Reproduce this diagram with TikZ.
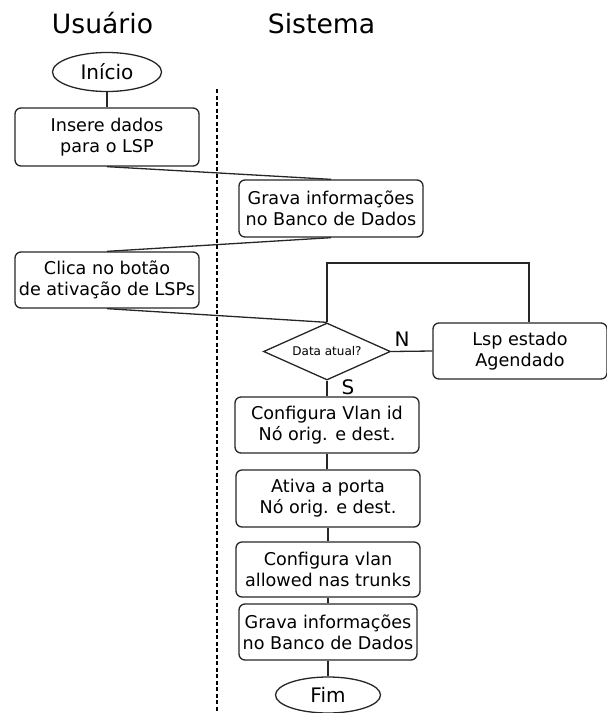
\documentclass[tikz,border=0pt]{standalone}
\usepackage{fontspec}
\setmainfont{DejaVu Sans}
\usetikzlibrary{shapes.geometric}

\tikzset{
  flow/.style={line width=1.3pt, draw=black!85},
  stepbox/.style={flow, rounded corners=6pt, align=center, inner sep=0pt,
    minimum width=184pt, minimum height=56pt,
    font=\fontsize{17.6}{21}\selectfont},
  terminal/.style={flow, ellipse, inner sep=0pt, font=\fontsize{20}{24}\selectfont},
  decision/.style={flow, diamond, aspect=2.2, inner sep=0pt, minimum width=127pt, minimum height=57pt,
    font=\fontsize{12}{14}\selectfont},
  lane/.style={font=\fontsize{26.6}{30}\selectfont, inner sep=0pt, anchor=base},
  branch/.style={font=\fontsize{20}{24}\selectfont, inner sep=0pt},
  link/.style={line width=1.3pt, draw=black!85},
  divider/.style={line width=1.2pt, dash pattern=on 4pt off 2.5pt}
}

\begin{document}
\begin{tikzpicture}[x=1pt,y=-1pt]
  \useasboundingbox (0,0) rectangle (606,713);

  % swimlane titles and divider
  \node[lane] (usr) at (102.5,33) {Usuário};
  \node[lane] (sys) at (321.5,33) {Sistema};
  \coordinate (divtop) at (217,89);
  \coordinate (divbot) at (217,713);
  \draw[divider] (divtop) -- (divbot);

  % user lane
  \node[terminal, minimum width=109pt, minimum height=39pt] (ini) at (107,72) {Início};
  \node[stepbox, minimum height=58pt] (ins) at (107,137) {Insere dados\\para o LSP};
  \node[stepbox] (cli) at (107,280) {Clica no botão\\de ativação de LSPs};

  % system lane
  \node[stepbox, minimum height=57pt] (gr1) at (331,208.5) {Grava informações\\no Banco de Dados};
  \node[decision] (dec) at (327,351.5) {Data atual?};
  \node[stepbox, minimum width=174pt] (lsp) at (520,351) {Lsp estado\\Agendado};
  \node[stepbox] (cfg) at (327,425) {Configura Vlan id\\Nó orig. e dest.};
  \node[stepbox, minimum height=57pt] (atv) at (328,498.5) {Ativa a porta\\Nó orig. e dest.};
  \node[stepbox, minimum height=55pt] (vln) at (328,569.5) {Configura vlan\\allowed nas trunks};
  \node[stepbox, minimum width=178pt] (gr2) at (328,632) {Grava informações\\no Banco de Dados};
  \node[terminal, minimum width=105pt, minimum height=36pt] (fim) at (328,695) {Fim};

  % branch labels
  \node[branch] (lblN) at (402,339) {N};
  \node[branch] (lblS) at (348,387) {S};

  % connectors
  \draw[link] (ini) -- (ins);
  \draw[link] (ins.south) -- (gr1.north);
  \draw[link] (gr1.south) -- (cli.north);
  \draw[link] (cli.south) -- (dec.north);
  \draw[link] (dec.east) -- (lsp.west);
  \coordinate (looptop) at (327,263);
  \draw[link] (dec.north) -- (looptop) -| ([xshift=9pt]lsp.north);
  \draw[link] (dec.south) -- (cfg.north);
  \draw[link] (cfg.south) -- (cfg.south |- atv.north);
  \draw[link] (atv.south) -- (atv.south |- vln.north);
  \draw[link] (vln.south) -- (vln.south |- gr2.north);
  \draw[link] (gr2.south) -- (fim.north);
\end{tikzpicture}
\end{document}
